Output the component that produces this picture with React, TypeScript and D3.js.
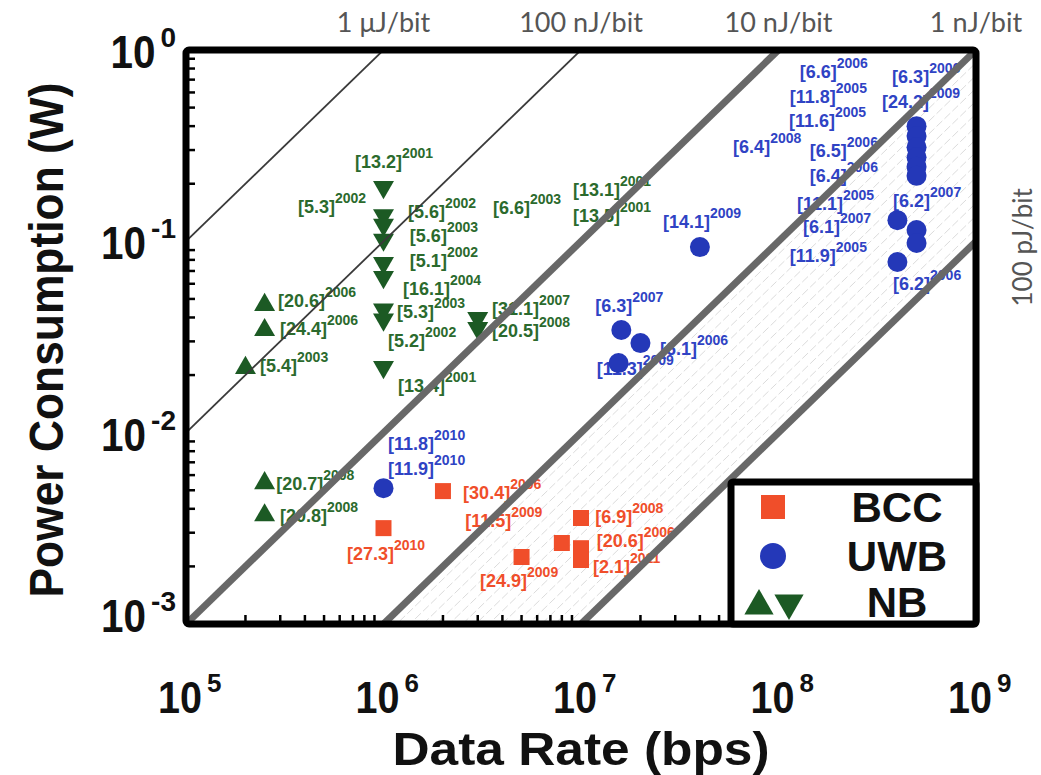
import React from "react";
import * as d3 from "d3";

// ---------- data ----------
// Energy-per-bit reference lines (J/bit)
const energyValues = [1e-6, 1e-7, 1e-8, 1e-9, 1e-10];
const energyLabels = ["1 μJ/bit", "100 nJ/bit", "10 nJ/bit", "1 nJ/bit", "100 pJ/bit"];
const energyHeavy = [false, false, true, true, true];

// [data rate (bps), power (W)]
const bccPoints: [number, number][] = [
  [1e6, 0.00317], [2e6, 0.00495], [5e6, 0.00224], [8e6, 0.00265],
  [1e7, 0.00358], [1e7, 0.00249], [1e7, 0.00216],
];
const uwbPoints: [number, number][] = [
  [1e6, 0.00513], [4e7, 0.0933], [1.6e7, 0.0344], [2e7, 0.0294], [1.55e7, 0.0231],
  [5e8, 0.40], [5e8, 0.355], [5e8, 0.31], [5e8, 0.275], [5e8, 0.245], [5e8, 0.22],
  [4e8, 0.129], [5e8, 0.1146], [5e8, 0.098], [4e8, 0.078],
];
const nbUpPoints: [number, number][] = [
  [2.5e5, 0.0465], [2.5e5, 0.0344], [2e5, 0.0218], [2.5e5, 0.00545], [2.5e5, 0.0037],
];
const nbDownPoints: [number, number][] = [
  [1e6, 0.192], [1e6, 0.137], [1e6, 0.122], [1e6, 0.102], [1e6, 0.077],
  [1e6, 0.065], [1e6, 0.044], [1e6, 0.039], [1e6, 0.022],
  [3e6, 0.0397], [3e6, 0.0352],
];

// [reference, year, label anchor rate, label anchor power]
type Lab = [string, string, number, number];
const nbLabels: Lab[] = [
  ["13.2", "2001", 7.17e5, 0.242], ["5.3", "2002", 3.69e5, 0.141],
  ["5.6", "2002", 1.33e6, 0.132], ["5.6", "2003", 1.36e6, 0.099],
  ["5.1", "2002", 1.36e6, 0.0734], ["16.1", "2004", 1.255e6, 0.0524],
  ["20.6", "2006", 2.92e5, 0.0453], ["5.3", "2003", 1.17e6, 0.0397],
  ["24.4", "2006", 2.99e5, 0.0324], ["5.2", "2002", 1.054e6, 0.028],
  ["5.4", "2003", 2.37e5, 0.0207], ["13.4", "2001", 1.184e6, 0.0163],
  ["6.6", "2003", 3.58e6, 0.139], ["13.1", "2001", 9.1e6, 0.1725],
  ["13.5", "2001", 9.1e6, 0.126], ["31.1", "2007", 3.54e6, 0.0412],
  ["20.5", "2008", 3.54e6, 0.0316], ["20.7", "2008", 2.86e5, 0.00501],
  ["20.8", "2008", 2.99e5, 0.00341],
];
const uwbLabels: Lab[] = [
  ["14.1", "2009", 2.6e7, 0.1173], ["6.3", "2007", 1.18e7, 0.0427],
  ["6.1", "2006", 2.51e7, 0.0255], ["11.3", "2009", 1.2e7, 0.02],
  ["6.6", "2006", 1.28e8, 0.714], ["6.3", "2006", 3.76e8, 0.672],
  ["11.8", "2005", 1.14e8, 0.528], ["24.2", "2009", 3.34e8, 0.4975],
  ["11.6", "2005", 1.13e8, 0.396], ["6.4", "2008", 5.89e7, 0.29],
  ["6.5", "2006", 1.44e8, 0.276], ["6.4", "2006", 1.44e8, 0.204],
  ["11.1", "2005", 1.24e8, 0.1457], ["6.2", "2007", 3.8e8, 0.151],
  ["6.1", "2007", 1.33e8, 0.1105], ["11.9", "2005", 1.14e8, 0.078],
  ["6.2", "2006", 3.8e8, 0.0556], ["11.8", "2010", 1.054e6, 0.0081],
  ["11.9", "2010", 1.054e6, 0.006],
];
const bccLabels: Lab[] = [
  ["27.3", "2010", 6.53e5, 0.00216], ["30.4", "2006", 2.53e6, 0.0045],
  ["11.5", "2009", 2.59e6, 0.00321], ["6.9", "2008", 1.18e7, 0.00337],
  ["20.6", "2006", 1.2e7, 0.00252], ["2.1", "2011", 1.15e7, 0.001845],
  ["24.9", "2009", 3.08e6, 0.00156],
];

const xTicks = [1e5, 1e6, 1e7, 1e8, 1e9];
const xTickExp = ["5", "6", "7", "8", "9"];
const yTicks = [1, 0.1, 0.01, 0.001];
const yTickExp = ["0", "-1", "-2", "-3"];
const legendNames = ["BCC", "UWB", "NB"];

// ---------- styles ----------
const RED = "#f04e2a";
const BLUE = "#2438b8";
const BLUE_TXT = "#2f43c4";
const GREEN = "#1c5a24";
const GREEN_TXT = "#2b6a2d";
const FONT = "'Liberation Sans', Arial, Helvetica, sans-serif";
const THIN_FONT = "Lato, 'Open Sans', sans-serif";

export default function App() {
  const x = d3.scaleLog().domain([1e5, 1e9]).range([186, 976]);
  const y = d3.scaleLog().domain([1e-3, 1]).range([624, 50]);
  const [px0, px1] = x.range();
  const pyTop = y(1);
  const pyBot = y(1e-3);

  const tri = (s: number) => d3.symbol().type(d3.symbolTriangle).size(s)() as string;
  const sq = (s: number) => d3.symbol().type(d3.symbolSquare).size(s)() as string;

  const line = d3.line<[number, number]>().x((d) => x(d[0])).y((d) => y(d[1]));
  const energyPath = (E: number) => line([[1e3, E * 1e3], [1e11, E * 1e11]]) as string;

  const hatch = d3.range(1, 15).map((i) => 1e-9 * Math.pow(10, -i / 15));

  const minorX: number[] = [];
  [1e5, 1e6, 1e7, 1e8].forEach((d) => d3.range(2, 10).forEach((k) => minorX.push(d * k)));
  const minorY: number[] = [];
  [1e-3, 1e-2, 1e-1].forEach((d) => d3.range(2, 10).forEach((k) => minorY.push(d * k)));

  const supW = (s: string) => s.split("").reduce((a, c) => a + (c === "-" ? 0.333 : 0.556), 0) * 28;

  const renderLabels = (labs: Lab[], color: string) =>
    labs.map(([ref, yr, r, p], i) => (
      <text key={i} x={x(r)} y={y(p)} fill={color} fontFamily={FONT} fontWeight="bold" fontSize={18}>
        <tspan>[{ref}]</tspan>
        <tspan dy={-10} fontSize={14}>{yr}</tspan>
      </text>
    ));

  return (
    <svg width={1041} height={775} style={{ position: "absolute", left: 0, top: 0, background: "#fff" }}>
      <defs>
        <clipPath id="plotClip">
          <rect x={px0} y={pyTop} width={px1 - px0} height={pyBot - pyTop} />
        </clipPath>
      </defs>
      <rect x={0} y={0} width={1041} height={775} fill="#fff" />

      {/* hatch between 1 nJ/bit and 100 pJ/bit */}
      <g clipPath="url(#plotClip)">
        {hatch.map((E, i) => (
          <path key={i} d={energyPath(E)} stroke="#cccccc" strokeWidth={0.7} strokeDasharray="8 3" fill="none" />
        ))}
      </g>

      {/* annotations */}
      {renderLabels(nbLabels, GREEN_TXT)}
      {renderLabels(uwbLabels, BLUE_TXT)}
      {renderLabels(bccLabels, RED)}

      {/* markers */}
      {bccPoints.map(([r, p], i) => (
        <path key={"b" + i} d={sq(256)} transform={`translate(${x(r)},${y(p)})`} fill={RED} />
      ))}
      {uwbPoints.map(([r, p], i) => (
        <circle key={"u" + i} cx={x(r)} cy={y(p)} r={10} fill={BLUE} />
      ))}
      {nbUpPoints.map(([r, p], i) => (
        <path key={"nu" + i} d={tri(190)} transform={`translate(${x(r)},${y(p)})`} fill={GREEN} />
      ))}
      {nbDownPoints.map(([r, p], i) => (
        <path key={"nd" + i} d={tri(190)} transform={`translate(${x(r)},${y(p)}) rotate(180)`} fill={GREEN} />
      ))}

      {/* energy lines */}
      <g clipPath="url(#plotClip)">
        {energyValues.map((E, i) => (
          <path
            key={i}
            d={energyPath(E)}
            stroke={energyHeavy[i] ? "#686868" : "#3a3a3a"}
            strokeWidth={energyHeavy[i] ? 7 : 1.8}
            fill="none"
          />
        ))}
      </g>

      {/* energy labels */}
      {energyValues.map((E, i) => {
        const rTop = 1 / E;
        if (rTop <= 1e9 * 1.0001) {
          return (
            <text key={i} x={x(rTop)} y={32} textAnchor="middle" fill="#555" fontFamily={THIN_FONT} fontSize={27}>
              {energyLabels[i]}
            </text>
          );
        }
        return (
          <text
            key={i}
            transform={`translate(1032,${y(E * 1e9) + 6}) rotate(-90)`}
            textAnchor="middle"
            fill="#555"
            fontFamily={THIN_FONT}
            fontSize={26}
          >
            {energyLabels[i]}
          </text>
        );
      })}

      {/* ticks */}
      {minorX.map((v, i) => (
        <line key={"tx" + i} x1={x(v)} x2={x(v)} y1={pyBot} y2={pyBot - 9} stroke="#000" strokeWidth={2.5} />
      ))}
      {minorY.map((v, i) => (
        <line key={"ty" + i} x1={px0} x2={px0 + 9} y1={y(v)} y2={y(v)} stroke="#000" strokeWidth={2.5} />
      ))}

      {/* frame */}
      <rect x={px0} y={pyTop} width={px1 - px0} height={pyBot - pyTop} fill="none" stroke="#000" strokeWidth={7} rx={3} />

      {/* legend */}
      <g>
        <rect x={731} y={482} width={px1 - 731} height={pyBot - 482} fill="#fff" stroke="#000" strokeWidth={7} rx={2} />
        <path d={sq(576)} transform="translate(773,507)" fill={RED} />
        <circle cx={773} cy={556} r={13} fill={BLUE} />
        <path d={tri(370)} transform="translate(759,606)" fill={GREEN} />
        <path d={tri(370)} transform="translate(789,603) rotate(180)" fill={GREEN} />
        {legendNames.map((n, i) => (
          <text key={n} x={897} y={[522, 571, 617][i]} textAnchor="middle" fontFamily={FONT} fontWeight="bold" fontSize={42} fill="#111">
            {n}
          </text>
        ))}
      </g>

      {/* x tick labels */}
      {xTicks.map((t, i) => (
        <g key={"xl" + i} fontFamily={FONT} fontWeight="bold" fill="#111">
          <text x={x(t) + 16} y={713} textAnchor="end" fontSize={44} textLength={44} lengthAdjust="spacingAndGlyphs">
            10
          </text>
          <text x={x(t) + 21} y={692} fontSize={26}>
            {xTickExp[i]}
          </text>
        </g>
      ))}

      {/* y tick labels */}
      {yTicks.map((t, i) => {
        const base = Math.max(64, Math.min(632, y(t) + 18));
        const sw = supW(yTickExp[i]);
        return (
          <g key={"yl" + i} fontFamily={FONT} fontWeight="bold" fill="#111">
            <text x={176 - sw - 5} y={base} textAnchor="end" fontSize={46} textLength={45} lengthAdjust="spacingAndGlyphs">
              10
            </text>
            <text x={176 - sw} y={base - 21} fontSize={28}>
              {yTickExp[i]}
            </text>
          </g>
        );
      })}

      {/* axis titles */}
      <text x={581} y={765} textAnchor="middle" fontFamily={FONT} fontWeight="bold" fontSize={46} fill="#111" textLength={377} lengthAdjust="spacingAndGlyphs">
        Data Rate (bps)
      </text>
      <text
        transform="translate(63,340) rotate(-90)"
        textAnchor="middle"
        fontFamily={FONT}
        fontWeight="bold"
        fontSize={48}
        fill="#111"
        textLength={515}
        lengthAdjust="spacingAndGlyphs"
      >
        Power Consumption (W)
      </text>
    </svg>
  );
}
